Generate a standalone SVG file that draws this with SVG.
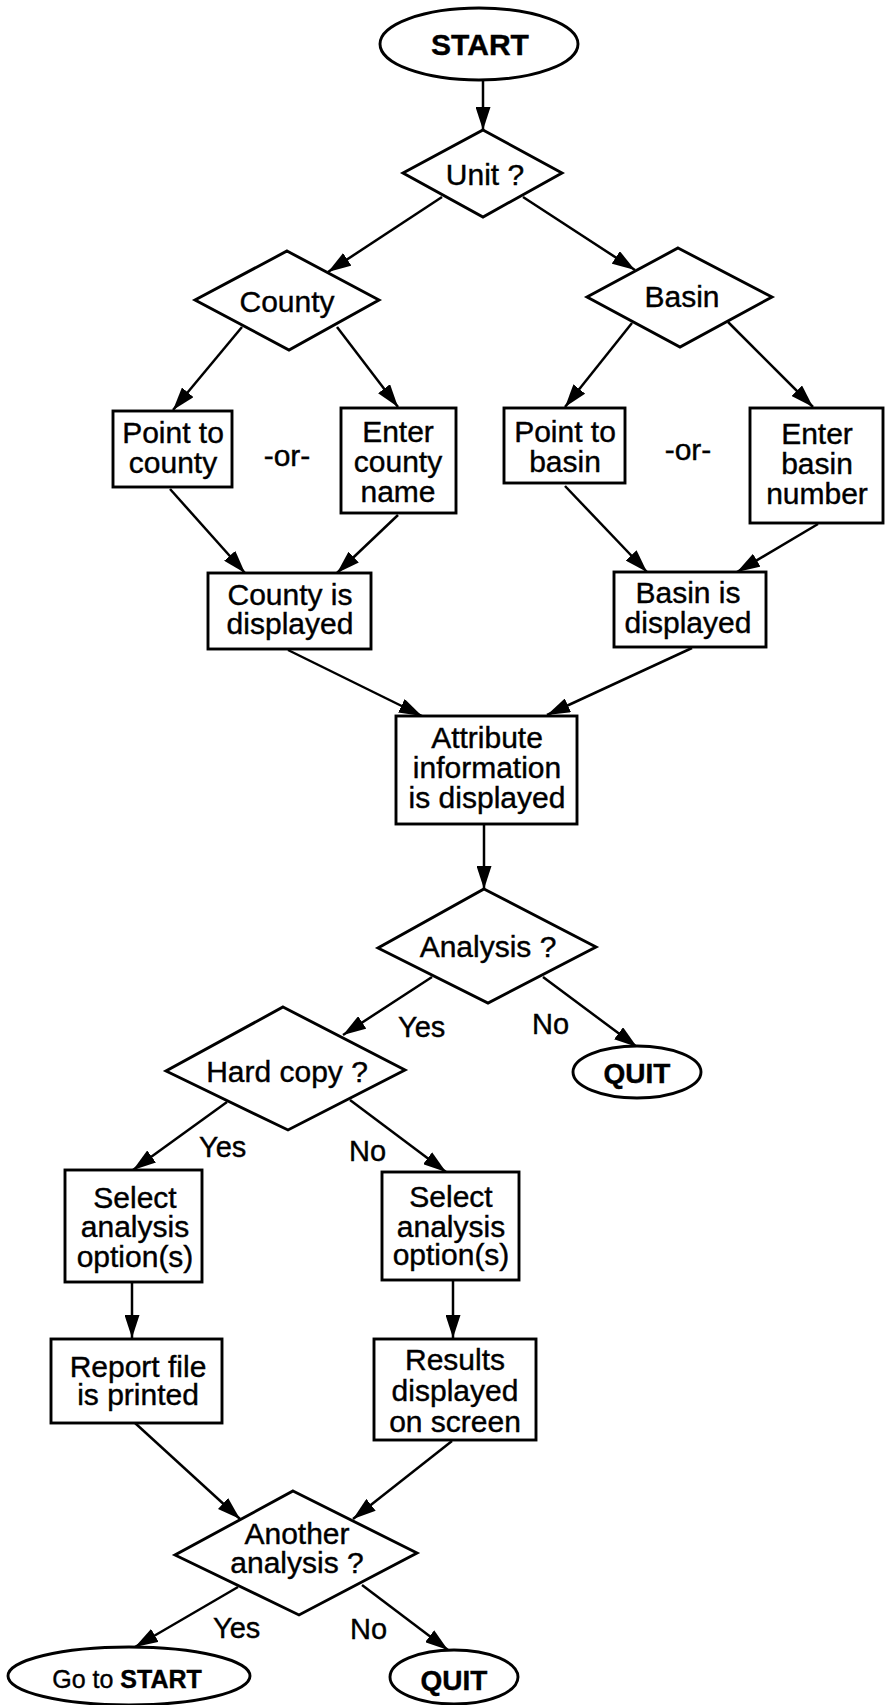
<svg xmlns="http://www.w3.org/2000/svg" width="885" height="1705" viewBox="0 0 885 1705">
  <style>
    .shape { fill: #fff; stroke: #000; stroke-width: 2.9; }
    .conn line { stroke: #000; stroke-width: 2.5; marker-end: url(#arrow); }
    text { font-family: "Liberation Sans", Arial, Helvetica, sans-serif; font-size: 30px; fill: #000; stroke: #000; stroke-width: 0.4; text-anchor: middle; }
    .lbl { font-size: 29px; text-anchor: start; }
    .bold { font-weight: bold; }
  </style>
  <defs>
    <marker id="arrow" markerUnits="userSpaceOnUse" markerWidth="24" markerHeight="15" refX="23" refY="7.5" orient="auto">
      <path d="M0,0 L23,7.5 L0,15 z" fill="#000"/>
    </marker>
  </defs>
  <rect width="885" height="1705" fill="#fff"/>

  <!-- connectors -->
  <g id="connectors" class="conn">
    <line x1="483" y1="80" x2="483" y2="130"/>
    <line x1="442" y1="197" x2="328" y2="272"/>
    <line x1="523" y1="197" x2="635" y2="270"/>
    <line x1="242" y1="327" x2="173" y2="410"/>
    <line x1="337" y1="327" x2="398" y2="407"/>
    <line x1="632" y1="323" x2="565" y2="407"/>
    <line x1="728" y1="322" x2="813" y2="407"/>
    <line x1="170" y1="489" x2="245" y2="573"/>
    <line x1="398" y1="515" x2="337" y2="573"/>
    <line x1="565" y1="486" x2="647" y2="572"/>
    <line x1="818" y1="524" x2="737" y2="572"/>
    <line x1="288" y1="650" x2="422" y2="716"/>
    <line x1="692" y1="648" x2="547" y2="715"/>
    <line x1="484" y1="824" x2="484" y2="889"/>
    <line x1="432" y1="977" x2="343" y2="1035"/>
    <line x1="543" y1="977" x2="637" y2="1047"/>
    <line x1="227" y1="1102" x2="133" y2="1170"/>
    <line x1="350" y1="1100" x2="446" y2="1172"/>
    <line x1="132" y1="1282" x2="132" y2="1338"/>
    <line x1="453" y1="1280" x2="453" y2="1338"/>
    <line x1="135" y1="1423" x2="240" y2="1519"/>
    <line x1="452" y1="1441" x2="353" y2="1519"/>
    <line x1="238" y1="1587" x2="135" y2="1647"/>
    <line x1="362" y1="1585" x2="448" y2="1650"/>
  </g>

  <!-- branch labels -->
  <g id="labels">
    <text x="287" y="466">-or-</text>
    <text x="688" y="460">-or-</text>
    <text class="lbl" x="398" y="1037">Yes</text>
    <text class="lbl" x="532" y="1034">No</text>
    <text class="lbl" x="199" y="1157">Yes</text>
    <text class="lbl" x="349" y="1161">No</text>
    <text class="lbl" x="213" y="1638">Yes</text>
    <text class="lbl" x="350" y="1639">No</text>
  </g>

  <g id="start">
    <ellipse class="shape" cx="479" cy="44" rx="99" ry="36"/>
    <text class="bold" x="480" y="55">START</text>
  </g>

  <g id="unit">
    <polygon class="shape" points="483,130 562,173 483,217 403,173"/>
    <text x="485" y="185">Unit ?</text>
  </g>

  <g id="county">
    <polygon class="shape" points="287,251 379,300 289,350 195,300"/>
    <text x="287" y="312">County</text>
  </g>

  <g id="basin">
    <polygon class="shape" points="678,248 772,297 680,347 587,297"/>
    <text x="682" y="307">Basin</text>
  </g>

  <g id="point-county">
    <rect class="shape" x="113" y="411" width="119" height="76"/>
    <text x="173" y="443">Point to</text>
    <text x="173" y="473">county</text>
  </g>

  <g id="enter-county">
    <rect class="shape" x="341" y="408" width="115" height="105"/>
    <text x="398" y="442">Enter</text>
    <text x="398" y="472">county</text>
    <text x="398" y="502">name</text>
  </g>

  <g id="point-basin">
    <rect class="shape" x="504" y="408" width="121" height="75"/>
    <text x="565" y="442">Point to</text>
    <text x="565" y="472">basin</text>
  </g>

  <g id="enter-basin">
    <rect class="shape" x="750" y="408" width="133" height="115"/>
    <text x="817" y="444">Enter</text>
    <text x="817" y="474">basin</text>
    <text x="817" y="504">number</text>
  </g>

  <g id="county-displayed">
    <rect class="shape" x="208" y="573" width="163" height="76"/>
    <text x="290" y="605">County is</text>
    <text x="290" y="634">displayed</text>
  </g>

  <g id="basin-displayed">
    <rect class="shape" x="614" y="572" width="152" height="75"/>
    <text x="688" y="603">Basin is</text>
    <text x="688" y="633">displayed</text>
  </g>

  <g id="attribute">
    <rect class="shape" x="396" y="716" width="181" height="108"/>
    <text x="487" y="748">Attribute</text>
    <text x="487" y="778">information</text>
    <text x="487" y="808">is displayed</text>
  </g>

  <g id="analysis">
    <polygon class="shape" points="484,889 596,947 488,1003 378,948"/>
    <text x="488" y="957">Analysis ?</text>
  </g>

  <g id="quit-1">
    <ellipse class="shape" cx="637" cy="1072" rx="64" ry="26"/>
    <text class="bold" x="637" y="1083" style="font-size:28px">QUIT</text>
  </g>

  <g id="hard-copy">
    <polygon class="shape" points="283,1007 405,1070 288,1130 166,1071"/>
    <text x="287" y="1082">Hard copy ?</text>
  </g>

  <g id="select-print">
    <rect class="shape" x="65" y="1170" width="137" height="112"/>
    <text x="135" y="1208">Select</text>
    <text x="135" y="1237">analysis</text>
    <text x="135" y="1267">option(s)</text>
  </g>

  <g id="select-screen">
    <rect class="shape" x="382" y="1172" width="137" height="108"/>
    <text x="451" y="1207">Select</text>
    <text x="451" y="1237">analysis</text>
    <text x="451" y="1265">option(s)</text>
  </g>

  <g id="report">
    <rect class="shape" x="51" y="1339" width="171" height="84"/>
    <text x="138" y="1377">Report file</text>
    <text x="138" y="1405">is printed</text>
  </g>

  <g id="results">
    <rect class="shape" x="374" y="1339" width="162" height="101"/>
    <text x="455" y="1370">Results</text>
    <text x="455" y="1401">displayed</text>
    <text x="455" y="1432">on screen</text>
  </g>

  <g id="another">
    <polygon class="shape" points="293,1491 417,1553 299,1615 175,1555"/>
    <text x="297" y="1544">Another</text>
    <text x="297" y="1573">analysis ?</text>
  </g>

  <g id="goto-start">
    <ellipse class="shape" cx="129" cy="1676" rx="121" ry="29"/>
    <text x="127" y="1688" style="font-size:25px">Go to <tspan class="bold">START</tspan></text>
  </g>

  <g id="quit-2">
    <ellipse class="shape" cx="454" cy="1677" rx="64" ry="27"/>
    <text class="bold" x="454" y="1690" style="font-size:28px">QUIT</text>
  </g>
</svg>
